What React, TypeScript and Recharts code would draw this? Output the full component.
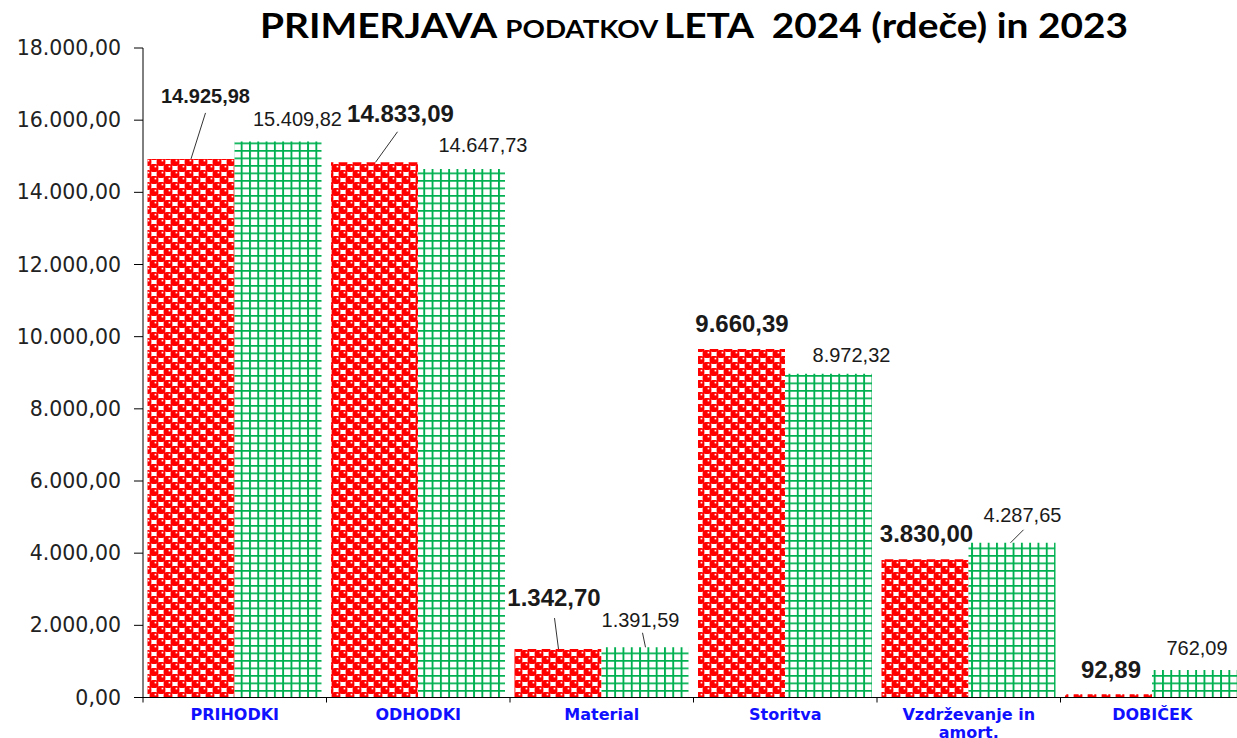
import React from 'react';
import { BarChart, Bar, XAxis, YAxis, LabelList } from 'recharts';

const categories = ['PRIHODKI', 'ODHODKI', 'Material', 'Storitva', 'Vzdrževanje in amort.', 'DOBIČEK'];
const values2024 = [14925.98, 14833.09, 1342.7, 9660.39, 3830.0, 92.89];
const values2023 = [15409.82, 14647.73, 1391.59, 8972.32, 4287.65, 762.09];
const yTicks = [0, 2000, 4000, 6000, 8000, 10000, 12000, 14000, 16000, 18000];

const data = categories.map((name, i) => ({ name, y2024: values2024[i], y2023: values2023[i] }));

type Place = { dx: number; dy: number; size: number; lead?: [number, number, number] };
// label placement (style): offset of text centre from bar top-centre, font size, optional leader line
const place2024: Place[] = [
  { dx: 14.5, dy: -62.5, size: 20, lead: [0, 16.5, 0] },
  { dx: 26, dy: -48.5, size: 24, lead: [-3, 18, 1] },
  { dx: -4, dy: -52, size: 24, lead: [0.5, 21, 0.5] },
  { dx: 0.5, dy: -25, size: 24 },
  { dx: 1.5, dy: -25.5, size: 24 },
  { dx: 2.5, dy: -25, size: 24 },
];
const place2023: Place[] = [
  { dx: 19.5, dy: -22, size: 20 },
  { dx: 21.5, dy: -23.5, size: 20 },
  { dx: -4.5, dy: -27.5, size: 20, lead: [2, 13, 0.5] },
  { dx: 23, dy: -18.5, size: 20 },
  { dx: 10.5, dy: -28, size: 20, lead: [1, 15, -1.5] },
  { dx: 1.5, dy: -22, size: 20 },
];

const W = 1250;
const H = 738;
const LEFT = 143;
const RIGHT_M = 6;
const BAND = (W - LEFT - RIGHT_M) / categories.length;

function fmt(v: number): string {
  const [int, dec] = v.toFixed(2).split('.');
  return int.replace(/\B(?=(\d{3})+(?!\d))/g, '.') + ',' + dec;
}

function wrap(s: string, max = 15): string[] {
  const words = s.split(' ');
  const lines: string[] = [];
  let cur = '';
  for (const w of words) {
    const next = cur ? cur + ' ' + w : w;
    if (next.length > max && cur) {
      lines.push(cur);
      cur = w;
    } else cur = next;
  }
  if (cur) lines.push(cur);
  return lines;
}

const makeLabel = (places: Place[], bold: boolean) => (props: any) => {
  const { x, y, width, value, index } = props;
  const p = places[index];
  if (!p) return null;
  const cx = Number(x) + Number(width) / 2;
  const top = Number(y);
  const tx = cx + p.dx;
  const ty = top + p.dy;
  return (
    <g>
      {p.lead && (
        <line x1={tx + p.lead[0]} y1={ty + p.lead[1]} x2={cx + p.lead[2]} y2={top} stroke="#333" strokeWidth={1} />
      )}
      <text
        x={tx}
        y={ty}
        textAnchor="middle"
        dominantBaseline="central"
        fontFamily="'Liberation Sans', Arial, sans-serif"
        fontSize={p.size}
        fontWeight={bold ? 700 : 400}
        fill="#1a1a1a"
      >
        {fmt(Number(value))}
      </text>
    </g>
  );
};

const YTick = (props: any) => {
  const { x, y, payload } = props;
  return (
    <text
      x={x}
      y={y}
      textAnchor="end"
      dominantBaseline="central"
      fontFamily="'DejaVu Sans', Verdana, sans-serif"
      fontSize={20.5}
      fill="#222"
    >
      {fmt(payload.value)}
    </text>
  );
};

const XTick = (props: any) => {
  const { x, y, payload, index } = props;
  const lines = wrap(String(payload.value));
  const left = x - BAND / 2;
  const right = x + BAND / 2;
  return (
    <g>
      <line x1={left} y1={y} x2={left} y2={y + 5} stroke="#000" strokeWidth={1} />
      {index === categories.length - 1 && (
        <line x1={right} y1={y} x2={right} y2={y + 5} stroke="#000" strokeWidth={1} />
      )}
      {lines.map((l, i) => (
        <text
          key={i}
          x={x}
          y={y + 16.5 + i * 18}
          textAnchor="middle"
          dominantBaseline="central"
          fontFamily="'DejaVu Sans', Verdana, sans-serif"
          fontSize={16}
          fontWeight={700}
          fill="#1010ff"
        >
          {l}
        </text>
      ))}
    </g>
  );
};

// sphere-like red tile: staggered rounded blobs on white
const TW = 14;
const TH = 12;
const blobs: [number, number][] = [
  [0, 0], [TW, 0], [0, TH], [TW, TH], [TW / 2, TH / 2],
];

export default function App() {
  return (
    <div style={{ position: 'absolute', left: 0, top: 0, width: 1237, height: H, overflow: 'hidden', background: '#fff' }}>
      <BarChart
        width={W}
        height={H}
        data={data}
        margin={{ top: 48, right: RIGHT_M, bottom: 0.5, left: 0 }}
        barCategoryGap={4.5}
        barGap={0}
      >
        <defs>
          <pattern id="redPat" patternUnits="userSpaceOnUse" width={TW} height={TH}>
            <rect x={0} y={0} width={TW} height={TH} fill="#fff" />
            {blobs.map(([bx, by], i) => (
              <g key={i}>
                <rect x={bx - 4.4} y={by - 3.9} width={8.8} height={7.8} rx={3} fill="#ff0000" />
                <rect x={bx + 0.6} y={by - 2.2} width={1.7} height={1.6} fill="#ffffff" />
              </g>
            ))}
          </pattern>
          <pattern id="greenPat" patternUnits="userSpaceOnUse" width={8.3} height={7.5}>
            <rect x={0} y={0} width={8.3} height={7.5} fill="#fff" />
            <rect x={0} y={0} width={1.9} height={7.5} fill="#00b050" />
            <rect x={0} y={0} width={8.3} height={1.7} fill="#00b050" />
          </pattern>
        </defs>
        <XAxis
          dataKey="name"
          height={40}
          axisLine={{ stroke: '#000', strokeWidth: 1 }}
          tickLine={false}
          tickSize={0}
          tickMargin={0}
          interval={0}
          tick={<XTick />}
        />
        <YAxis
          width={LEFT}
          domain={[0, 18000]}
          ticks={yTicks}
          interval={0}
          axisLine={{ stroke: '#000', strokeWidth: 1 }}
          tickLine={{ stroke: '#000', strokeWidth: 1 }}
          tickSize={9}
          tickMargin={13}
          tick={<YTick />}
        />
        <Bar dataKey="y2024" fill="url(#redPat)" isAnimationActive={false}>
          <LabelList dataKey="y2024" content={makeLabel(place2024, true)} />
        </Bar>
        <Bar dataKey="y2023" fill="url(#greenPat)" isAnimationActive={false}>
          <LabelList dataKey="y2023" content={makeLabel(place2023, false)} />
        </Bar>
      </BarChart>
      <svg width={1237} height={60} style={{ position: 'absolute', left: 0, top: 0, pointerEvents: 'none' }}>
        <text
          x={694}
          y={38}
          textAnchor="middle"
          fontFamily="Lato, 'Open Sans', sans-serif"
          fontWeight={700}
          fill="#000"
          textLength={868}
          lengthAdjust="spacingAndGlyphs"
          style={{ whiteSpace: 'pre' }}
        >
          <tspan fontSize={35}>PRIMERJAVA </tspan>
          <tspan fontSize={25}>PODATKOV </tspan>
          <tspan fontSize={35}>LETA  2024 (rdeče) in 2023</tspan>
        </text>
      </svg>
    </div>
  );
}
